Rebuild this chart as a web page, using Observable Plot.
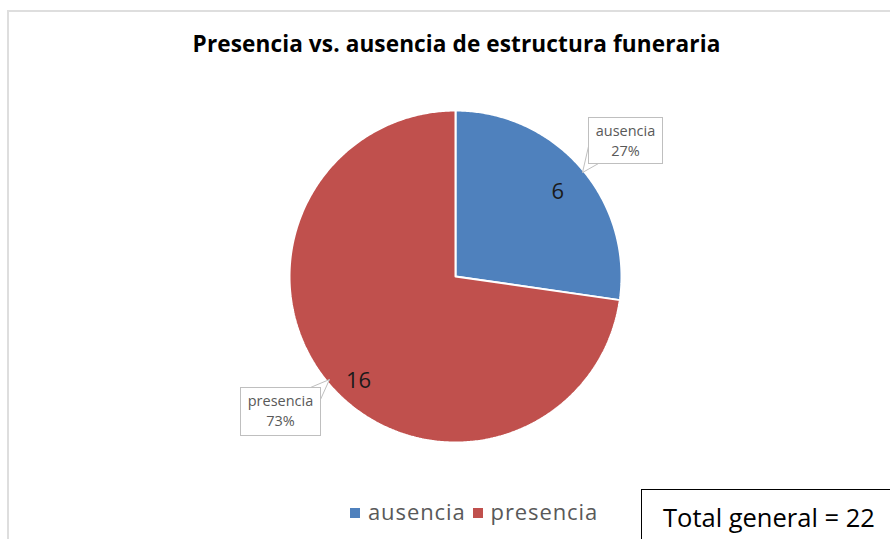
<!DOCTYPE html>
<html><head><meta charset="utf-8">
<script src="https://cdn.jsdelivr.net/npm/d3@7"></script>
<script src="https://cdn.jsdelivr.net/npm/@observablehq/plot@0.6"></script>
<style>
body{margin:0;background:#fff;}
#wrap{position:relative;width:890px;height:539px;overflow:hidden;font-family:"Open Sans",sans-serif;}
#frame{position:absolute;left:7px;top:10px;width:900px;height:560px;border:2px solid #dedede;box-sizing:border-box;}
#title{position:absolute;left:0;width:913px;top:28px;text-align:center;font-weight:bold;font-size:22.6px;color:#000;letter-spacing:0.1px;}
.callout{position:absolute;background:#fff;border:1px solid #bfbfbf;color:#595959;font-size:14.5px;line-height:20px;text-align:center;box-sizing:border-box;padding-top:3px;}
#legend{position:absolute;top:496px;left:350px;font-size:22px;color:#595959;white-space:nowrap;letter-spacing:0.9px;}
#legend span.sw{display:inline-block;width:10px;height:10px;margin-right:8px;vertical-align:2px;}
#legend span.lab{margin-right:7px;}
#total{position:absolute;left:641px;top:489px;width:300px;height:80px;border:1px solid #000;box-sizing:border-box;background:#fff;font-size:25.5px;color:#000;padding-left:21px;padding-top:10px;}
#plot{position:absolute;left:0;top:0;}
</style></head>
<body>
<div id="wrap">
  <div id="frame"></div>
  <div id="plot"></div>
  <div id="title">Presencia vs. ausencia de estructura funeraria</div>
  <div id="legend"></div>
  <div id="total"></div>
</div>
<script>
const categories = ["ausencia", "presencia"];
const counts = [6, 16];
const colors = ["#4F81BD", "#C0504D"];
const totalLabel = "Total general";

// layout (pixels)
const W = 890, H = 539, CX = 455, CY = 276, RAD = 166;
const px = x => (x - CX) / RAD;
const py = y => (CY - y) / RAD;

const total = d3.sum(counts);
const pie = d3.pie().sort(null).value(d => d)(counts);

// slice polygons in unit-circle coordinates (angle clockwise from top)
const slicePts = [];
pie.forEach((p, i) => {
  const cat = categories[i];
  slicePts.push({cat, x: 0, y: 0});
  const n = Math.max(2, Math.ceil((p.endAngle - p.startAngle) / 0.01));
  for (let k = 0; k <= n; k++) {
    const a = p.startAngle + (p.endAngle - p.startAngle) * k / n;
    slicePts.push({cat, x: Math.sin(a), y: Math.cos(a)});
  }
  slicePts.push({cat, x: 0, y: 0});
});

const labelOffsets = [[2, 2], [11, 11]];
const valueLabels = pie.map((p, i) => {
  const a = (p.startAngle + p.endAngle) / 2;
  const r = i === 0 ? 0.8 : 0.86;
  return {cat: categories[i], text: String(counts[i]), x: r * Math.sin(a), y: r * Math.cos(a), dx: labelOffsets[i][0], dy: labelOffsets[i][1]};
});

// callout pointers (decoration)
const pointers = [
  {cat: "ausencia", pts: [[588,146],[582,172],[598,163]]},
  {cat: "presencia", pts: [[310,387],[329,379],[320,399]]}
].flatMap(d => d.pts.concat([d.pts[0]]).map(([x, y]) => ({cat: d.cat, x: px(x), y: py(y)})));

const chart = Plot.plot({
  width: W, height: H,
  margin: 0,
  x: {domain: [px(0), px(W)], axis: null},
  y: {domain: [py(H), py(0)], axis: null},
  color: {domain: categories, range: colors},
  style: {background: "transparent", fontFamily: "'Open Sans', sans-serif"},
  marks: [
    Plot.line(slicePts, {x: "x", y: "y", z: "cat", fill: "cat", stroke: "white", strokeWidth: 2, curve: "linear", strokeLinejoin: "miter"}),
    ...valueLabels.map(d => Plot.text([d], {x: "x", y: "y", text: "text", dx: d.dx, dy: d.dy, fontSize: 22, fill: "#1a1a1a"}))
  ]
});
document.getElementById("plot").appendChild(chart);

// callout boxes
const calloutBoxes = [
  {left: 588, top: 117, width: 75, height: 47},
  {left: 240, top: 387, width: 81, height: 49}
];
const wrap = document.getElementById("wrap");
const ptrPlot = Plot.plot({
  width: W, height: H, margin: 0,
  x: {domain: [px(0), px(W)], axis: null},
  y: {domain: [py(H), py(0)], axis: null},
  style: {background: "transparent"},
  marks: [Plot.line(pointers, {x: "x", y: "y", z: "cat", fill: "white", stroke: "#bfbfbf", strokeWidth: 1, curve: "linear"})]
});
ptrPlot.style.position = "absolute"; ptrPlot.style.left = "0"; ptrPlot.style.top = "0";
wrap.appendChild(ptrPlot);
categories.forEach((c, i) => {
  const b = calloutBoxes[i];
  const d = document.createElement("div");
  d.className = "callout";
  Object.assign(d.style, {left: b.left + "px", top: b.top + "px", width: b.width + "px", height: b.height + "px"});
  d.innerHTML = c + "<br>" + Math.round(counts[i] / total * 100) + "%";
  wrap.appendChild(d);
});

// legend
document.getElementById("legend").innerHTML = categories.map((c, i) =>
  `<span class="sw" style="background:${colors[i]}"></span><span class="lab">${c}</span>`).join("");
document.getElementById("total").textContent = `${totalLabel} = ${total}`;
</script>
</body></html>
